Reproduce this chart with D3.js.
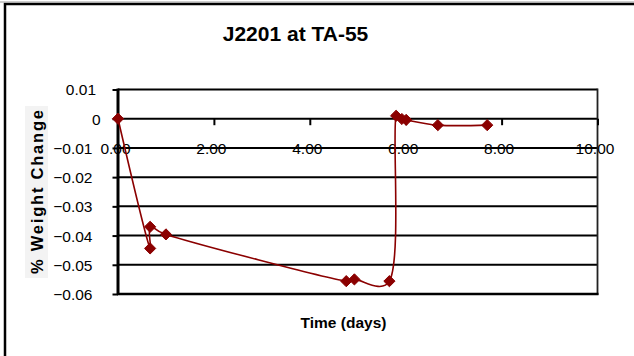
<!DOCTYPE html>
<html>
<head>
<meta charset="utf-8">
<script src="https://cdn.jsdelivr.net/npm/d3@7"></script>
<style>
  html, body { margin: 0; padding: 0; background: #fff; }
  svg { display: block; }
  text { font-family: "Liberation Sans", Arial, sans-serif; fill: #000; }
</style>
</head>
<body>
<svg id="chart" width="634" height="356"></svg>
<script>
// Weight change of sample J2201 over time
const timeDays     = [0, 0.67, 0.67, 1.0, 4.76, 4.93, 5.66, 5.80, 5.92, 6.01, 6.67, 7.70];
const weightChange = [0, -0.0444, -0.0370, -0.0396, -0.0556, -0.0550, -0.0556, 0.0010, -0.0001, -0.0004, -0.0022, -0.0022];
const xTicks = [0, 2, 4, 6, 8, 10];
const yTicks = [0.01, 0, -0.01, -0.02, -0.03, -0.04, -0.05, -0.06];

const titleText = "J2201 at TA-55";
const xLabel = "Time (days)";
const yLabel = "% Weight Change";

const W = 634, H = 356;
const plot = { left: 118, right: 597.5, top: 89.5, bottom: 294 };
const lineColor = "#8b0000";

const svg = d3.select("#chart");
svg.append("rect").attr("width", W).attr("height", H).attr("fill", "#fff");

// chart frame (only top and left edges fall inside the canvas)
svg.append("path")
  .attr("d", `M5,${H + 5} L5,4 L${W + 5},4`)
  .attr("fill", "none").attr("stroke", "#000").attr("stroke-width", 2.5);
svg.append("line").attr("x1", 0).attr("x2", W).attr("y1", 2).attr("y2", 2)
  .attr("stroke", "#9a9a9a").attr("stroke-width", 1);

const x = d3.scaleLinear().domain([0, 10]).range([plot.left, plot.right]);
const y = d3.scaleLinear().domain([-0.06, 0.01]).range([plot.bottom, plot.top]);

// horizontal gridlines
svg.append("g").selectAll("line").data(yTicks).join("line")
  .attr("x1", plot.left).attr("x2", plot.right)
  .attr("y1", d => y(d)).attr("y2", d => y(d))
  .attr("stroke", "#000").attr("stroke-width", 2);

// plot area edges
svg.append("line").attr("x1", plot.right).attr("x2", plot.right)
  .attr("y1", plot.top - 1).attr("y2", plot.bottom + 1)
  .attr("stroke", "#222").attr("stroke-width", 1.8);
svg.append("line").attr("x1", plot.left - 1).attr("x2", plot.right + 1)
  .attr("y1", plot.bottom).attr("y2", plot.bottom)
  .attr("stroke", "#000").attr("stroke-width", 2.5);

// y axis
const yAxis = d3.axisLeft(y).tickValues(yTicks).tickSize(5.5).tickPadding(0)
  .tickFormat(d => d === 0 ? "0" : d3.format(".2f")(d));
const gy = svg.append("g").attr("transform", `translate(${plot.left},0)`).call(yAxis);
gy.select(".domain").attr("stroke", "#000").attr("stroke-width", 3)
  .attr("d", `M0,${plot.top - 1}V${plot.bottom + 1}`);
gy.selectAll(".tick line").attr("stroke", "#000").attr("stroke-width", 2);
gy.selectAll(".tick text")
  .attr("font-size", "15.5px")
  .attr("font-family", "'Liberation Sans', Arial, sans-serif")
  .attr("x", d => d < 0 ? -25.5 : (d === 0 ? -17.5 : -22))
  .attr("dy", "0.35em");

// x axis sits on the zero line
const xAxis = d3.axisBottom(x).tickValues(xTicks).tickSize(6.5).tickPadding(0)
  .tickFormat(d3.format(".2f"));
const gx = svg.append("g").attr("transform", `translate(0,${y(0)})`).call(xAxis);
gx.select(".domain").remove();
gx.selectAll(".tick line").attr("stroke", "#000").attr("stroke-width", 2);
gx.selectAll(".tick text")
  .attr("font-size", "15.5px")
  .attr("font-family", "'Liberation Sans', Arial, sans-serif")
  .attr("x", -3)
  .attr("y", 35)
  .attr("dy", 0);

// smoothed series line
const pts = timeDays.map((t, i) => [t, weightChange[i]]);
const line = d3.line().x(d => x(d[0])).y(d => y(d[1])).curve(d3.curveCatmullRom.alpha(0.3));
svg.append("path").datum(pts)
  .attr("d", line)
  .attr("fill", "none").attr("stroke", lineColor).attr("stroke-width", 1.6);

// diamond markers
const diamond = d3.symbol().type(d3.symbolDiamond2).size(80);
svg.append("g").selectAll("path").data(pts).join("path")
  .attr("d", diamond)
  .attr("transform", d => `translate(${x(d[0])},${y(d[1])})`)
  .attr("fill", lineColor).attr("stroke", lineColor).attr("stroke-width", 1);

// title
svg.append("text").attr("x", 295.5).attr("y", 40.5)
  .attr("text-anchor", "middle").attr("font-weight", "bold").attr("font-size", "21px")
  .text(titleText);

// x axis title
svg.append("text").attr("x", 343.5).attr("y", 328)
  .attr("text-anchor", "middle").attr("font-weight", "bold").attr("font-size", "15.5px")
  .text(xLabel);

// y axis title on a light panel
svg.append("rect").attr("x", 25).attr("y", 106).attr("width", 23).attr("height", 172)
  .attr("fill", "#f3f3f3");
svg.append("text")
  .attr("transform", "translate(42.5,192) rotate(-90)")
  .attr("text-anchor", "middle").attr("font-weight", "bold").attr("font-size", "16.5px")
  .attr("textLength", 164).attr("lengthAdjust", "spacing")
  .text(yLabel);
</script>
</body>
</html>
